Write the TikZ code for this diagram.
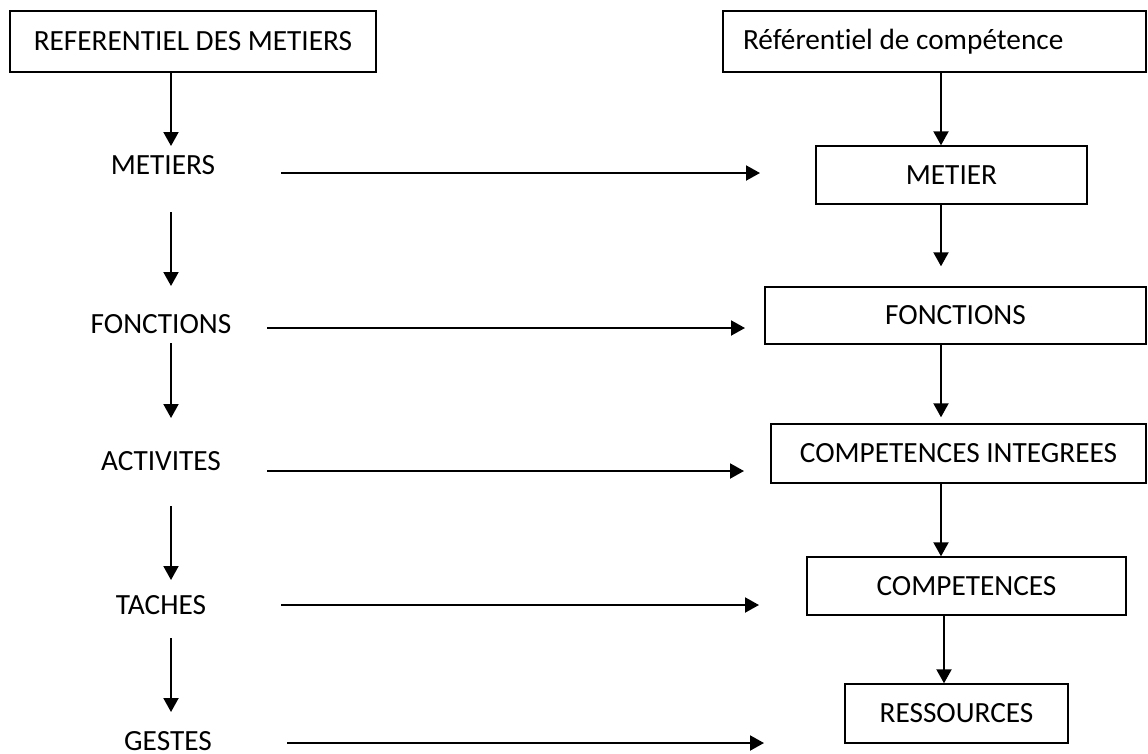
\documentclass[tikz,border=0pt]{standalone}
\usepackage{fontspec}
\setmainfont{Carlito}[Ligatures=NoCommon]
\usetikzlibrary{arrows.meta,calc}
\tikzset{%
  box/.style={draw,line width=1.4pt,inner sep=0pt,minimum width=#1,minimum height=59pt},
  box/.default=300pt,
  lab/.style={inner sep=0pt},
  arr/.style={line width=2pt,-{Triangle[length=14pt,width=15pt]}}
}
\begin{document}
\begin{tikzpicture}[x=1pt,y=-1pt,font=\fontsize{29.3}{34}\selectfont]
  \useasboundingbox (0,0) rectangle (1148,753);
  % Left column
  \node[box=366pt,minimum height=61pt] (refm) at (193,41.5) {REFERENTIEL DES METIERS};
  \node[lab] (metiers) at (163,165) {METIERS};
  \node[lab] (fonctions) at (161,324) {FONCTIONS};
  \node[lab] (activites) at (161,461) {ACTIVITES};
  \node[lab] (taches) at (161,605) {TACHES};
  \node[lab] (gestes) at (168,741) {GESTES};
  % Right column
  \node[box=423pt,minimum height=61pt,text width=383pt,align=flush left,inner xsep=20pt] (refc) at (934.5,41.5) {Référentiel de compétence};
  \node[box=271pt,minimum height=58pt] (metier) at (951.5,175) {METIER};
  \node[box=381pt,minimum height=57pt] (fonc) at (955.5,315.5) {FONCTIONS};
  \node[box=375pt] (compi) at (958.5,453.5) {COMPETENCES INTEGREES};
  \node[box=319pt,minimum height=58pt] (comp) at (966.5,586) {COMPETENCES};
  \node[box=223pt] (res) at (956.5,713.5) {RESSOURCES};
  % Left arrows
  \coordinate (lx) at (171,0);
  \coordinate (l0) at (171,212);
  \coordinate (l1) at (171,286);
  \coordinate (l2) at (171,343);
  \coordinate (l3) at (171,418);
  \coordinate (l4) at (171,506);
  \coordinate (l5) at (171,580);
  \coordinate (l6) at (171,638);
  \coordinate (l7) at (171,712);
  \draw[arr] (refm.south -| lx) -- (171,146);
  \draw[arr] (l0) -- (l1);
  \draw[arr] (l2) -- (l3);
  \draw[arr] (l4) -- (l5);
  \draw[arr] (l6) -- (l7);
  % Right arrows
  \coordinate (rx) at (941,0);
  \coordinate (ry) at (944,0);
  \draw[arr] (refc.south -| rx) -- (metier.north -| rx);
  \draw[arr] (metier.south -| rx) -- ($(fonc.north -| rx)+(0,-20)$);
  \draw[arr] (fonc.south -| rx) -- ($(compi.north -| rx)+(0,-6)$);
  \draw[arr] (compi.south -| rx) -- (comp.north -| rx);
  \draw[arr] (comp.south -| ry) -- (res.north -| ry);
  % Horizontal arrows
  \coordinate (h0) at (281,173);  \coordinate (t0) at (760,173);
  \coordinate (h1) at (267,328);  \coordinate (t1) at (745,328);
  \coordinate (h2) at (267,471);  \coordinate (t2) at (744,471);
  \coordinate (h3) at (281,605);  \coordinate (t3) at (759,605);
  \coordinate (h4) at (287,743);  \coordinate (t4) at (764,743);
  \draw[arr] (h0) -- (t0);
  \draw[arr] (h1) -- (t1);
  \draw[arr] (h2) -- (t2);
  \draw[arr] (h3) -- (t3);
  \draw[arr] (h4) -- (t4);
\end{tikzpicture}
\end{document}
